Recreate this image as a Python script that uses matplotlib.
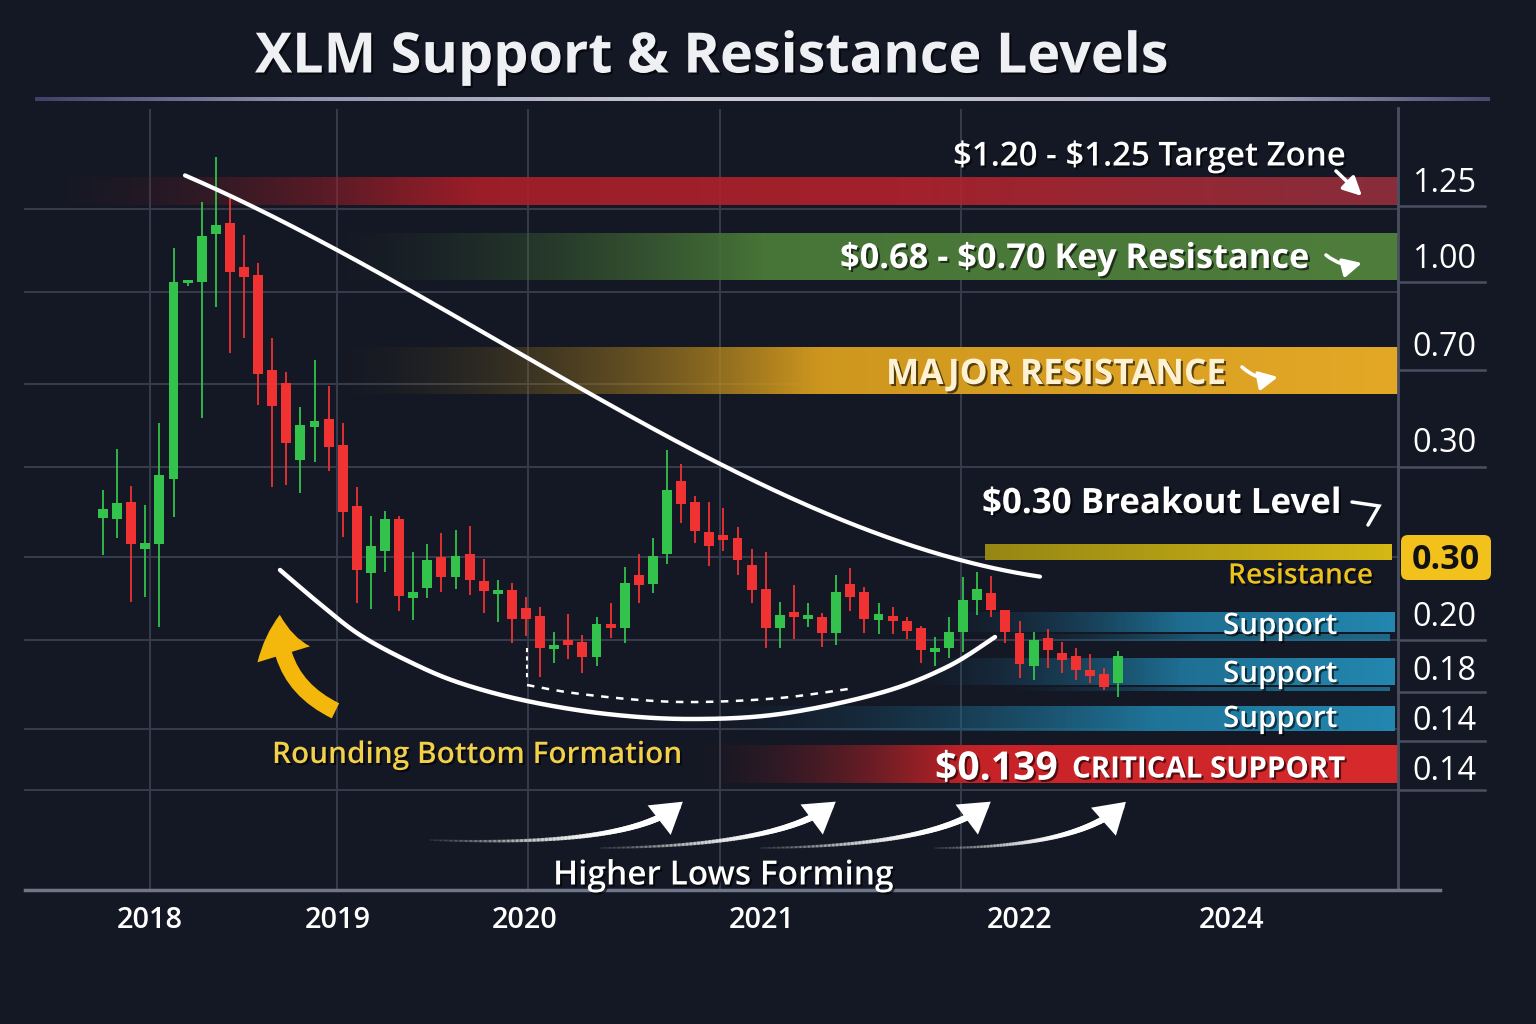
import numpy as np
import matplotlib
matplotlib.use("Agg")
import matplotlib.pyplot as plt
from matplotlib.patches import FancyArrowPatch, FancyBboxPatch
from matplotlib.collections import LineCollection
import matplotlib.patheffects as pe

# ---------------- data ----------------
years = ["2018", "2019", "2020", "2021", "2022", "2024"]
price_labels = ["1.25", "1.00", "0.70", "0.30", "0.30", "0.20", "0.18", "0.14", "0.14"]
badge_label = "0.30"

# candle values on the chart's own (visual) price scale
opens = [37.2, 37.1, 38.8, 34.1, 34.6, 41.1, 60.7, 60.8, 65.6, 66.7,
         62.3, 61.5, 52.0, 50.7, 43.0, 46.3, 47.1, 44.5, 38.4, 31.7,
         33.9, 37.1, 29.2, 30.2, 33.3, 31.3, 33.6, 30.9, 29.6, 30.0,
         28.2, 27.4, 24.1, 25.0, 24.8, 23.3, 26.6, 26.2, 31.5, 30.6,
         33.6, 40.9, 38.8, 35.8, 35.5, 35.2, 32.5, 30.1, 26.2, 27.8,
         27.1, 27.3, 25.7, 30.6, 29.8, 27.0, 27.4, 26.9, 26.2, 23.8,
         24.2, 25.8, 29.0, 29.7, 28.0, 25.7, 22.4, 25.2, 23.7, 23.4,
         22.0, 21.6, 20.7]
highs = [40.0, 44.1, 40.4, 38.5, 46.7, 64.2, 61.0, 68.8, 73.3, 69.2,
         65.5, 62.7, 55.2, 51.8, 48.3, 53.0, 50.4, 46.7, 40.3, 37.4,
         37.9, 37.4, 33.8, 34.6, 35.7, 36.0, 36.4, 33.1, 31.0, 30.7,
         29.3, 28.3, 25.8, 27.6, 25.5, 27.3, 28.7, 32.3, 33.6, 35.2,
         44.0, 42.6, 39.4, 38.8, 38.2, 36.3, 34.1, 33.8, 28.8, 30.5,
         28.7, 27.7, 31.5, 32.2, 30.3, 28.7, 28.3, 27.3, 26.4, 25.3,
         27.3, 31.3, 31.8, 31.4, 28.0, 26.9, 25.8, 26.1, 24.8, 24.2,
         23.6, 22.2, 23.9]
lows = [33.5, 35.2, 28.8, 29.3, 26.3, 37.3, 60.4, 47.2, 58.3, 53.7,
        55.2, 48.5, 40.3, 40.5, 39.7, 42.8, 41.9, 35.3, 28.7, 28.1,
        31.8, 27.9, 27.0, 29.2, 29.8, 30.1, 29.5, 27.7, 26.8, 24.7,
        25.4, 21.3, 22.7, 23.1, 21.7, 22.4, 25.2, 24.7, 28.7, 29.7,
        32.6, 36.7, 34.7, 32.4, 33.9, 31.5, 28.7, 24.2, 24.2, 25.1,
        26.3, 24.3, 24.5, 27.9, 25.7, 25.6, 25.6, 25.1, 22.7, 22.4,
        23.2, 23.8, 27.5, 27.3, 24.7, 21.2, 21.0, 22.2, 21.7, 21.0,
        20.7, 20.0, 19.3]
closes = [38.1, 38.7, 34.6, 34.7, 41.5, 60.8, 60.8, 65.4, 66.5, 61.8,
          61.3, 51.6, 48.4, 44.7, 46.5, 46.9, 44.3, 37.8, 32.0, 34.4,
          37.1, 29.4, 29.8, 33.0, 31.3, 33.4, 31.0, 29.9, 30.0, 27.1,
          27.1, 24.2, 24.5, 24.5, 23.3, 26.6, 26.2, 30.7, 30.5, 33.4,
          40.0, 38.6, 35.9, 34.4, 35.0, 33.0, 30.0, 26.2, 27.5, 27.3,
          27.5, 25.7, 29.8, 29.3, 27.1, 27.6, 26.9, 25.9, 24.0, 24.2,
          25.8, 29.0, 30.1, 28.0, 25.8, 22.6, 25.0, 24.0, 23.0, 22.0,
          21.4, 20.3, 23.4]

# ---------------- layout / style ----------------
W, H = 1536, 1024
BG = "#141824"
GRID = "#363c4c"
GREEN = "#33c24b"
RED = "#f03232"
FONT = ["Open Sans", "DejaVu Sans"]
plt.rcParams["font.family"] = FONT

fig = plt.figure(figsize=(W / 100, H / 100), dpi=100)
fig.patch.set_facecolor(BG)

bg = fig.add_axes([0, 0, 1, 1], zorder=0)
bg.set_facecolor(BG)
bg.axis("off")

# plot region in pixels
PL, PR, PT, PB = 25, 1398, 100, 890
ax = fig.add_axes([PL / W, (H - PB) / H, (PR - PL) / W, (PB - PT) / H], zorder=1)
ax.patch.set_alpha(0)
ax.axis("off")
STEP, X0 = 14.1, 103
ax.set_xlim((PL - X0) / STEP, (PR - X0) / STEP)
ax.set_ylim(0, (PB - PT) / 10)

ov = fig.add_axes([0, 0, 1, 1], zorder=2)
ov.patch.set_alpha(0)
ov.axis("off")


def band(a, x0, x1, y0, y1, stops, fade_to=None, amax=1.0, z=1):
    xs = np.linspace(x0, x1, 400)
    pos = [s[0] for s in stops]
    rgb = np.stack([np.interp(xs, pos, [s[1][k] / 255 for s in stops]) for k in range(3)], axis=1)
    if fade_to is None:
        alpha = np.full_like(xs, amax)
    else:
        alpha = amax * np.clip((xs - x0) / (fade_to - x0), 0, 1) ** 1.3
    img = np.dstack([rgb[None, :, 0], rgb[None, :, 1], rgb[None, :, 2], alpha[None, :]])
    a.imshow(img, extent=(x0, x1, y1, y0), aspect="auto", interpolation="bilinear", zorder=z)


# grid
for gy in [209, 292, 384, 467, 557, 640, 729, 790]:
    bg.plot([PL, PR], [gy, gy], color=GRID, lw=1.4, zorder=0.5)
for gx in [150, 337, 528, 720, 961]:
    bg.plot([gx, gx], [110, PB], color=GRID, lw=1.4, zorder=0.5)
bg.plot([PR, PR], [108, PB], color="#4a5062", lw=2, zorder=3)
for ty in [206, 282, 370, 467, 640, 692, 741, 790]:
    bg.plot([PR, 1485], [ty, ty], color="#4a5062", lw=1.8, zorder=3)
bg.plot([PL, 1440], [PB, PB], color="#70768a", lw=2.5, zorder=3)

# title rule
band(bg, 35, 1490, 97, 101, [(35, (70, 70, 110)), (300, (160, 160, 190)), (700, (225, 225, 235)),
                            (1200, (200, 200, 220)), (1490, (80, 80, 120))], amax=0.9)

# level bands
band(bg, 40, PR, 177, 205, [(40, (110, 30, 40)), (400, (170, 30, 40)), (900, (180, 35, 45)), (PR, (150, 48, 62))],
     fade_to=480, amax=0.9)
band(bg, 330, PR, 233, 280, [(330, (60, 95, 50)), (800, (72, 118, 56)), (PR, (78, 125, 60))], fade_to=760)
band(bg, 330, PR, 347, 394, [(330, (110, 90, 30)), (800, (205, 150, 30)), (PR, (228, 168, 38))], fade_to=820)
band(bg, 985, 1392, 544, 560, [(985, (150, 135, 20)), (1392, (212, 184, 22))])
band(bg, 930, 1395, 612, 632, [(930, (25, 80, 110)), (1395, (35, 135, 175))], fade_to=1180)
band(bg, 1000, 1390, 634, 641, [(1000, (25, 85, 115)), (1390, (35, 125, 160))], fade_to=1200, amax=0.8)
band(bg, 900, 1395, 658, 685, [(900, (25, 80, 110)), (1395, (35, 135, 175))], fade_to=1180)
band(bg, 1000, 1390, 687, 691, [(1000, (25, 85, 115)), (1390, (35, 125, 160))], fade_to=1200, amax=0.8)
band(bg, 700, 1395, 706, 731, [(700, (25, 80, 110)), (1395, (35, 135, 175))], fade_to=1150)
band(bg, 690, PR, 745, 783, [(690, (120, 30, 35)), (1000, (200, 35, 40)), (PR, (215, 42, 45))], fade_to=960)

# badge
bg.add_patch(FancyBboxPatch((1401, 535), 90, 45, boxstyle="round,pad=0,rounding_size=7",
                            fc="#f2c11c", ec="none", zorder=4))

bg.set_xlim(0, W)
bg.set_ylim(H, 0)

# ---------------- candles ----------------
idx = np.arange(len(opens))
o, h, l, c = map(np.array, (opens, highs, lows, closes))
cols = np.where(c >= o, GREEN, RED)
ax.vlines(idx, l, h, colors=cols, lw=1.3, zorder=2)
body = np.maximum(np.abs(c - o), 0.35)
ax.bar(idx, body, bottom=np.minimum(o, c), width=0.7, color=cols, zorder=3)

# ---------------- overlay ----------------
ov.set_xlim(0, W)
ov.set_ylim(H, 0)


def catmull(pts, n=30):
    p = np.array(pts, float)
    p = np.vstack([p[0], p, p[-1]])
    out = []
    for i in range(1, len(p) - 2):
        p0, p1, p2, p3 = p[i - 1], p[i], p[i + 1], p[i + 2]
        t = np.linspace(0, 1, n)[:, None]
        out.append(0.5 * ((2 * p1) + (-p0 + p2) * t + (2 * p0 - 5 * p1 + 4 * p2 - p3) * t ** 2
                          + (-p0 + 3 * p1 - 3 * p2 + p3) * t ** 3))
    return np.vstack(out)


# trend arcs (annotation guides)
guide = np.array([(185, 177), (257, 207), (350, 256), (567, 380), (620, 412), (673, 440),
                  (720, 467), (800, 500), (900, 539), (1040, 578)], float)
cf = np.polyfit(guide[:, 0], guide[:, 1], 3)
gx = np.linspace(185, 1040, 300)
ov.plot(gx, np.polyval(cf, gx), color="white", lw=3, solid_capstyle="round", zorder=5)

bot_arc = catmull([(280, 570), (320, 604), (360, 635), (410, 662), (460, 683), (527, 701), (607, 714),
                   (690, 719), (780, 714), (880, 693), (947, 667), (995, 637)])
ov.plot(bot_arc[:, 0], bot_arc[:, 1], color="white", lw=3.2, solid_capstyle="round", zorder=5)
ov.plot([527, 527], [648, 680], color="white", lw=1.5, ls=(0, (2, 2)), zorder=5)
dash = catmull([(527, 685), (573, 693), (640, 700), (700, 702), (780, 698), (855, 688)])
ov.plot(dash[:, 0], dash[:, 1], color="white", lw=1.8, ls=(0, (3, 3)), zorder=5)

# yellow arrow
ov.add_patch(FancyArrowPatch((338, 712), (280, 612), connectionstyle="arc3,rad=-0.35",
                             arrowstyle="simple,head_width=1.8,head_length=1.3,tail_width=0.55",
                             mutation_scale=22, fc="#f4b70c", ec="none", zorder=6))


def fade_arrow(p0, pc, p1):
    t = np.linspace(0, 1, 80)[:, None]
    pts = (1 - t) ** 2 * np.array(p0) + 2 * (1 - t) * t * np.array(pc) + t ** 2 * np.array(p1)
    segs = np.stack([pts[:-1], pts[1:]], axis=1)[:-6]
    tt = np.linspace(0, 1, len(segs))
    colors = [(1, 1, 1, min(1, 0.08 + 1.4 * v)) for v in tt]
    ov.add_collection(LineCollection(segs, colors=colors, linewidths=1.2 + 4 * tt, zorder=6,
                                     capstyle="round"))
    ov.add_patch(FancyArrowPatch(tuple(pts[-12]), tuple(pts[-1]),
                                 arrowstyle="simple,head_width=1.5,head_length=1.2,tail_width=0.35",
                                 mutation_scale=18, fc="white", ec="none", zorder=6))


fade_arrow((430, 840), (640, 848), (685, 800))
fade_arrow((600, 848), (790, 846), (838, 800))
fade_arrow((760, 848), (945, 846), (993, 800))
fade_arrow((935, 848), (1085, 848), (1128, 800))

# small text arrows
wa = dict(arrowstyle="-|>,head_width=0.35,head_length=0.7", mutation_scale=16, lw=2.6,
          color="white", zorder=6, shrinkA=0, shrinkB=0)
ov.add_patch(FancyArrowPatch((1336, 171), (1362, 196), **wa))
ov.add_patch(FancyArrowPatch((1326, 255), (1362, 263), connectionstyle="arc3,rad=0.25", **wa))
ov.add_patch(FancyArrowPatch((1242, 367), (1278, 377), connectionstyle="arc3,rad=0.25", **wa))
ov.plot([1352, 1379, 1368], [502, 506, 525], color="white", lw=2.5, solid_capstyle="round",
        solid_joinstyle="miter", zorder=6)

# ---------------- text ----------------
renderer = fig.canvas.get_renderer()
shadow = [pe.withSimplePatchShadow(offset=(1.5, -1.5), shadow_rgbFace="black", alpha=0.6)]
DY = 3


def fit(s, x0, x1, yc, color="white", weight="bold", effects=True, z=7):
    t = ov.text(x0, yc + DY, s, color=color, fontsize=20, fontweight=weight, ha="left", va="center",
                zorder=z, parse_math=False)
    w = t.get_window_extent(renderer).width
    t.set_fontsize(20 * (x1 - x0) / w)
    if effects:
        t.set_path_effects(shadow)
    return t


fit("XLM Support & Resistance Levels", 255, 1168, 55, color="#eef0f4")
fit("$1.20 - $1.25 Target Zone", 953, 1345, 154, weight="semibold")
fit("$0.68 - $0.70 Key Resistance", 840, 1310, 256)
fit("MAJOR RESISTANCE", 886, 1226, 372, color="#fff2d2")
fit("$0.30 Breakout Level", 982, 1342, 501)
fit("Resistance", 1228, 1373, 573, color="#ecc21e", weight="semibold")
for yy in [623, 671, 716]:
    fit("Support", 1223, 1337, yy, weight="semibold")
fit("$0.139", 935, 1058, 766)
fit("CRITICAL SUPPORT", 1072, 1345, 767)
fit("Rounding Bottom Formation", 272, 681, 752, color="#f2d04a", weight="semibold")
fit("Higher Lows Forming", 553, 893, 873, weight="semibold")

label_y = [181, 256, 344, 441, None, 615, 669, 719, 768]
for lab, yy in zip(price_labels, label_y):
    if yy is not None:
        fit(lab, 1412, 1476, yy, weight="normal", effects=False)
fit(badge_label, 1412, 1480, 557, color="#111111", effects=False)

year_x = [150, 338, 525, 762, 1020, 1232]
for lab, xx in zip(years, year_x):
    fit(lab, xx - 33, xx + 33, 918, weight="semibold", effects=False)

fig.savefig("out.png", dpi=100, facecolor=BG)
